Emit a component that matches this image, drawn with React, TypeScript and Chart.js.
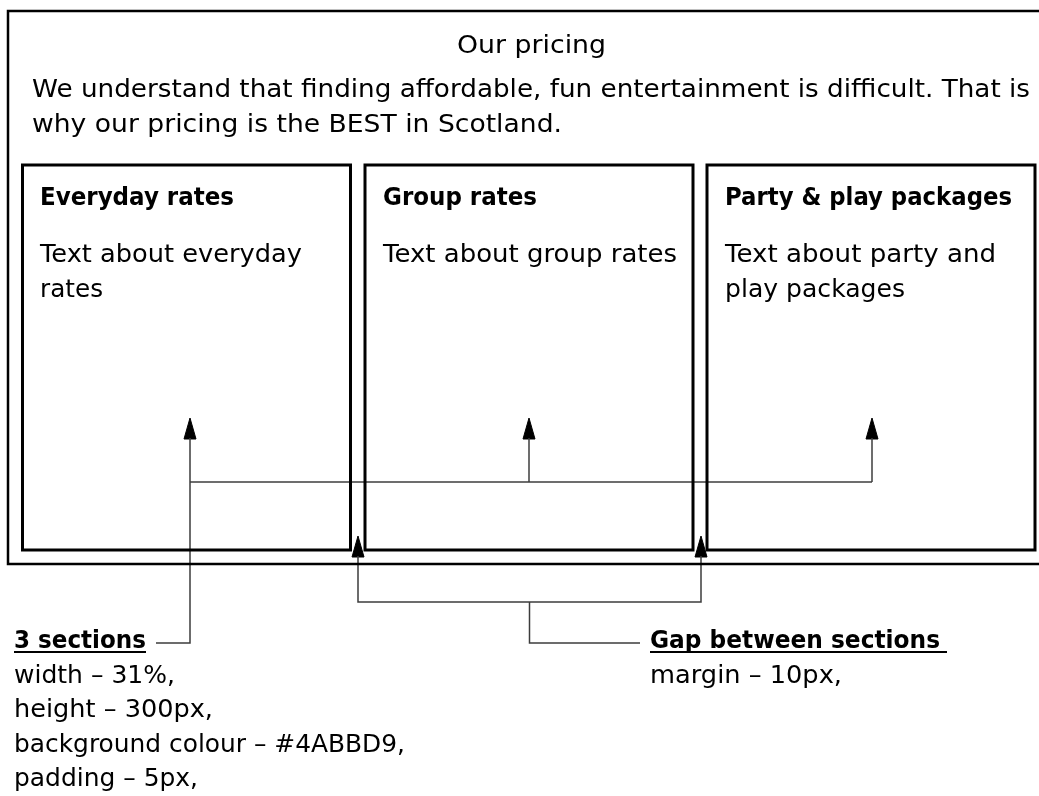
import React, { useEffect, useRef } from "react";
import { Chart, registerables } from "chart.js";

Chart.register(...registerables);

const W = 1039;
const H = 796;

// ---- diagram geometry (in page pixels) ----
const outerBoxX = [8, 1046];
const outerBoxY = [11, 564];
const sectionLeft = [22.5, 365, 707];
const sectionRight = [350.5, 693, 1035];
const sectionY = [165, 550];
const sectionArrowX = [190, 529, 872];
const sectionArrowTipY = 418;
const sectionBusY = 482;
const gapArrowX = [358, 701];
const gapArrowTipY = 536;
const gapBusY = 602;
const labelLeadY = 643;
const sectionsLeadEndX = 156;
const gapLeadEndX = 640;

// ---- texts ----
const textItems = [
  "Our pricing",
  "We understand that finding affordable, fun entertainment is difficult. That is",
  "why our pricing is the BEST in Scotland.",
];
const sectionTitles = ["Everyday rates", "Group rates", "Party & play packages"];
const sectionBodies = [
  ["Text about everyday", "rates"],
  ["Text about group rates"],
  ["Text about party and", "play packages"],
];
const sectionsNoteTitle = "3 sections";
const sectionsNoteLines = [
  "width \u2013 31%,",
  "height \u2013 300px,",
  "background colour \u2013 #4ABBD9,",
  "padding \u2013 5px,",
];
const gapNoteTitle = "Gap between sections";
const gapNoteLines = ["margin \u2013 10px,"];

type TextSpec = {
  text: string;
  x: number;
  y: number;
  w: number;
  bold?: boolean;
  center?: boolean;
  underline?: number;
};

const FONT_SIZE = 25;
const FONT_FAMILY = '"DejaVu Sans", "Noto Sans", sans-serif';

const texts: TextSpec[] = [
  { text: textItems[0], x: 531.5, y: 53, w: 149, center: true },
  { text: textItems[1], x: 32, y: 97, w: 998 },
  { text: textItems[2], x: 32, y: 132, w: 530 },
  { text: sectionTitles[0], x: 40, y: 205, w: 194, bold: true },
  { text: sectionBodies[0][0], x: 40, y: 262, w: 262 },
  { text: sectionBodies[0][1], x: 40, y: 297, w: 63 },
  { text: sectionTitles[1], x: 383, y: 205, w: 154, bold: true },
  { text: sectionBodies[1][0], x: 383, y: 262, w: 294 },
  { text: sectionTitles[2], x: 725, y: 205, w: 287, bold: true },
  { text: sectionBodies[2][0], x: 725, y: 262, w: 271 },
  { text: sectionBodies[2][1], x: 725, y: 297, w: 180 },
  { text: sectionsNoteTitle, x: 14, y: 648, w: 132, bold: true, underline: 132 },
  { text: sectionsNoteLines[0], x: 14, y: 682.5, w: 161 },
  { text: sectionsNoteLines[1], x: 14, y: 717, w: 199 },
  { text: sectionsNoteLines[2], x: 14, y: 751.5, w: 391 },
  { text: sectionsNoteLines[3], x: 14, y: 786, w: 184 },
  { text: gapNoteTitle, x: 650, y: 648, w: 290, bold: true, underline: 297 },
  { text: gapNoteLines[0], x: 650, y: 682.5, w: 192 },
];

type Pt = { x: number; y: number };
const seg = (pts: number[][]): Pt[] => pts.map(([x, y]) => ({ x, y }));
// closed rectangle; the first edge is repeated so the start corner joins cleanly
const boxPts = (l: number, t: number, r: number, b: number) =>
  seg([
    [l, t],
    [r, t],
    [r, b],
    [l, b],
    [l, t],
    [r, t],
  ]);

const HEAD_W = 12;
const HEAD_H = 21;

const base = {
  pointRadius: 0,
  pointHoverRadius: 0,
  pointHitRadius: 0,
  tension: 0,
  fill: false,
  borderJoinStyle: "miter",
  borderCapStyle: "butt",
};
const thick = { ...base, borderColor: "#000", borderWidth: 3 };
const thin = { ...base, borderColor: "#3c3c3c", borderWidth: 1.5 };
const head = (x: number, tipY: number) => ({
  ...base,
  borderColor: "#000",
  borderWidth: 1,
  backgroundColor: "#000",
  fill: "shape",
  data: seg([
    [x, tipY],
    [x + HEAD_W / 2, tipY + HEAD_H],
    [x - HEAD_W / 2, tipY + HEAD_H],
    [x, tipY],
  ]),
});

function buildDatasets() {
  const ds: any[] = [];
  ds.push({
    ...thick,
    borderWidth: 2.5,
    data: boxPts(outerBoxX[0], outerBoxY[0], outerBoxX[1], outerBoxY[1]),
  });
  sectionLeft.forEach((l, i) =>
    ds.push({ ...thick, data: boxPts(l, sectionY[0], sectionRight[i], sectionY[1]) })
  );
  const stemTop = sectionArrowTipY + HEAD_H - 1;
  ds.push({
    ...thin,
    data: seg([
      [sectionArrowX[0], stemTop],
      [sectionArrowX[0], labelLeadY],
      [sectionsLeadEndX, labelLeadY],
    ]),
  });
  ds.push({
    ...thin,
    data: seg([
      [sectionArrowX[0], sectionBusY],
      [sectionArrowX[sectionArrowX.length - 1], sectionBusY],
    ]),
  });
  sectionArrowX.slice(1).forEach((x) =>
    ds.push({ ...thin, data: seg([[x, sectionBusY], [x, stemTop]]) })
  );
  const gapStemTop = gapArrowTipY + HEAD_H - 1;
  ds.push({
    ...thin,
    data: seg([
      [gapArrowX[0], gapStemTop],
      [gapArrowX[0], gapBusY],
      [gapArrowX[1], gapBusY],
      [gapArrowX[1], gapStemTop],
    ]),
  });
  const gapMid = (gapArrowX[0] + gapArrowX[1]) / 2;
  ds.push({
    ...thin,
    data: seg([
      [gapMid, gapBusY],
      [gapMid, labelLeadY],
      [gapLeadEndX, labelLeadY],
    ]),
  });
  sectionArrowX.forEach((x) => ds.push(head(x, sectionArrowTipY)));
  gapArrowX.forEach((x) => ds.push(head(x, gapArrowTipY)));
  return ds;
}

const textPlugin = {
  id: "diagramTexts",
  afterDatasetsDraw(chart: any) {
    const { ctx } = chart;
    const sx = chart.scales.x;
    const sy = chart.scales.y;
    ctx.save();
    ctx.fillStyle = "#000";
    ctx.textBaseline = "alphabetic";
    ctx.textAlign = "left";
    for (const t of texts) {
      ctx.font = `${t.bold ? "bold " : ""}${FONT_SIZE}px ${FONT_FAMILY}`;
      const natural = ctx.measureText(t.text).width;
      const k = t.w / natural;
      let px = sx.getPixelForValue(t.x);
      const py = sy.getPixelForValue(t.y);
      if (t.center) px -= t.w / 2;
      ctx.save();
      ctx.translate(px, py);
      ctx.scale(k, 1);
      ctx.fillText(t.text, 0, 0);
      ctx.restore();
      if (t.underline) {
        ctx.fillRect(px, py + 3, t.underline, 2);
      }
    }
    ctx.restore();
  },
};

export default function App() {
  const ref = useRef<HTMLCanvasElement | null>(null);
  useEffect(() => {
    if (!ref.current) return;
    const chart = new Chart(ref.current, {
      type: "line",
      data: { datasets: buildDatasets() },
      options: {
        animation: false,
        responsive: true,
        maintainAspectRatio: false,
        events: [],
        layout: { padding: 0 },
        scales: {
          x: { type: "linear", min: 0, max: W, display: false },
          y: { type: "linear", min: 0, max: H, reverse: true, display: false },
        },
        plugins: {
          legend: { display: false },
          tooltip: { enabled: false },
        },
      } as any,
      plugins: [textPlugin],
    });
    return () => chart.destroy();
  }, []);
  return (
    <div
      style={{
        position: "absolute",
        left: 0,
        top: 0,
        width: W,
        height: H,
        background: "#fff",
      }}
    >
      <canvas ref={ref} />
    </div>
  );
}
